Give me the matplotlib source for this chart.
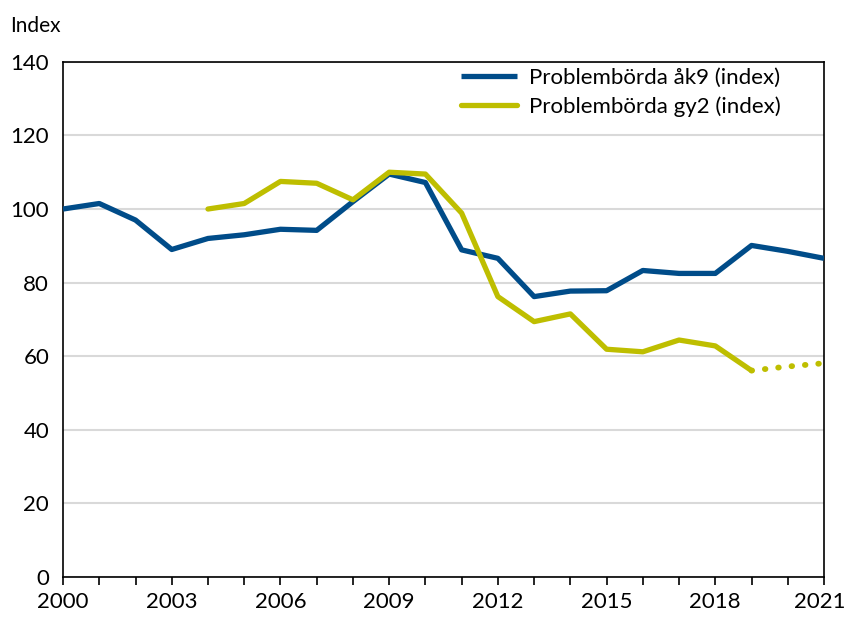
import numpy as np
import matplotlib
matplotlib.use("Agg")
import matplotlib.pyplot as plt
import matplotlib.transforms as mtransforms

plt.rcParams.update({
    'font.family': ['Lato', 'DejaVu Sans'],
    'font.size': 16,
})

years = np.arange(2000, 2022)
ak9 = [100, 101.5, 97, 89, 92, 93, 94.5, 94.2, 102, 109.5, 107.2, 88.9,
       86.6, 76.2, 77.7, 77.8, 83.3, 82.5, 82.5, 90.1, 88.5, 86.6]
gy2_years = np.arange(2004, 2020)
gy2 = [100, 101.5, 107.5, 107, 102.5, 110, 109.5, 98.9,
       76.2, 69.4, 71.5, 61.9, 61.2, 64.4, 62.8, 56.1]
gy2_fc_years = [2019, 2020, 2021]
gy2_fc = [56.1, 57.2, 58.1]

blue = '#004C89'
yellow = '#BEBE00'

fig = plt.figure(figsize=(8.46, 6.17), dpi=100)
ax = fig.add_axes([0.0745, 0.0648, 0.8995, 0.835])

ax.grid(axis='y', color='#d9d9d9', linewidth=1.5, zorder=0)
ax.plot(years, ak9, color=blue, linewidth=3.8, label='Problembörda åk9 (index)',
        solid_capstyle='butt', zorder=3)
ax.plot(gy2_years, gy2, color=yellow, linewidth=3.8, label='Problembörda gy2 (index)',
        solid_capstyle='round', zorder=3)
ax.plot(gy2_fc_years, gy2_fc, color=yellow, linewidth=4.2, linestyle=(0, (0.1, 2.2)),
        dash_capstyle='round', zorder=3)

ax.set_xlim(2000, 2021)
ax.set_ylim(0, 140)
ax.set_xticks(years, minor=True)
ax.set_xticks(np.arange(2000, 2022, 3))
ax.set_yticks(np.arange(0, 141, 20))
ax.tick_params(axis='y', length=0, pad=10, labelsize=16)
ax.tick_params(axis='x', which='both', direction='out', length=6, width=1.2, pad=5, labelsize=16)
for s in ax.spines.values():
    s.set_linewidth(1.2)

# keep the last year label inside the figure
last = ax.get_xticklabels()[-1]
last.set_transform(last.get_transform() +
                   mtransforms.ScaledTranslation(-4 / 100, 0, fig.dpi_scale_trans))

fig.text(0.012, 0.958, 'Index', fontsize=15, ha='left', va='center')

leg = ax.legend(loc='upper right', bbox_to_anchor=(0.955, 1.005), frameon=False,
                fontsize=16, handlelength=2.5, handletextpad=0.55, labelspacing=0.35,
                borderaxespad=0)

fig.savefig('out.png', dpi=100)
